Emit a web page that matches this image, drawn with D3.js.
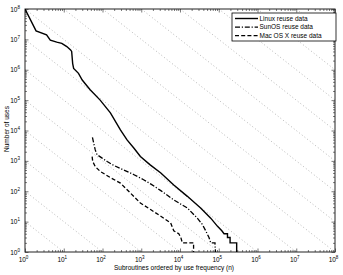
<!DOCTYPE html>
<html>
<head>
<meta charset="utf-8">
<script src="https://cdn.jsdelivr.net/npm/d3@7"></script>
<style>
  body { margin: 0; background: #fff; }
  text { font-family: "Liberation Sans", Arial, Helvetica, sans-serif; fill: #000; }
</style>
</head>
<body>
<svg id="chart" width="343" height="275"></svg>
<script>
// rank (n) and number of uses
const linuxN = [1, 1.93, 3.6, 4.5, 6.6, 8.9, 12, 15, 16, 17, 18, 24, 30, 35, 48, 87, 160, 290, 430, 650, 950,
  1700, 3200, 6900, 15500, 34000, 62000, 93000, 120000, 137000, 168000, 168000, 196000, 196000, 290000, 290000]
const linuxUses = [1e8, 1.9e7, 1.4e7, 9.5e6, 8.1e6, 7.4e6, 5.8e6, 4.5e6, 4.0e6, 1.6e6, 1.1e6, 7.6e5, 4.6e5, 3.6e5,
  2.2e5, 1.0e5, 3.8e4, 1.05e4, 4900, 2600, 1400, 740, 400, 160, 68, 28, 13, 7, 5, 4, 4, 3, 3, 2, 2, 1]

const sunosN = [55, 65, 72, 98, 132, 195, 355, 650, 1150, 1740, 3200, 6900, 15500, 28000, 38000, 46000, 56000,
  62000, 80000, 82000]
const sunosUses = [5900, 2300, 1600, 1230, 950, 710, 500, 350, 240, 175, 105, 52, 28, 13, 8, 5, 3, 2, 2, 1]

const macN = [54, 56, 65, 87, 117, 160, 290, 950, 1740, 3200, 5750, 6900, 9300, 10500, 11500, 22400, 22400]
const macUses = [1380, 950, 650, 450, 360, 280, 186, 41, 25, 15, 9, 5, 4, 3, 2, 2, 1]

const seriesNames = ['Linux reuse data', 'SunOS reuse data', 'Mac OS X reuse data']
const decades = d3.range(0, 9)            // 10^0 .. 10^8 on both axes
const zipfLines = d3.range(1, 16)          // n * uses = 10^m

const xLabel = 'Subroutines ordered by use frequency (n)'
const yLabel = 'Number of uses'

const margin = {left: 25, top: 9, right: 8, bottom: 23}
const width = 343, height = 275

const svg = d3.select('#chart')
const x = d3.scaleLog().domain([1, 1e8]).range([margin.left, width - margin.right])
const y = d3.scaleLog().domain([1, 1e8]).range([height - margin.bottom, margin.top])

const majors = decades.map(d => Math.pow(10, d))
const minors = []
decades.slice(0, -1).forEach(d => {
  d3.range(2, 10).forEach(k => minors.push(k * Math.pow(10, d)))
})

const pLeft = x.range()[0], pRight = x.range()[1]
const pTop = y.range()[1], pBottom = y.range()[0]

svg.append('defs').append('clipPath').attr('id', 'plot')
  .append('rect')
  .attr('x', pLeft).attr('y', pTop)
  .attr('width', pRight - pLeft)
  .attr('height', pBottom - pTop)

// dotted reference lines of slope -1
const grid = svg.append('g').attr('clip-path', 'url(#plot)')
zipfLines.forEach(m => {
  const n0 = Math.max(1, Math.pow(10, m - 8))
  const n1 = Math.min(1e8, Math.pow(10, m))
  grid.append('line')
    .attr('x1', x(n0)).attr('y1', y(Math.pow(10, m) / n0))
    .attr('x2', x(n1)).attr('y2', y(Math.pow(10, m) / n1))
    .attr('stroke', '#a4a4a4')
    .attr('stroke-width', 0.8)
    .attr('stroke-dasharray', '1,2.4')
})

// ticks on all four sides, pointing inward
function ticks(axis, vals, size, transform) {
  svg.append('g').attr('transform', transform)
    .call(axis.tickValues(vals).tickSize(size).tickFormat(''))
    .call(g => g.select('.domain').remove())
    .call(g => g.selectAll('line').attr('stroke', '#222').attr('stroke-width', 0.6))
}
ticks(d3.axisBottom(x), majors, -3.5, `translate(0,${pBottom})`)
ticks(d3.axisBottom(x), minors, -2, `translate(0,${pBottom})`)
ticks(d3.axisTop(x), majors, -3.5, `translate(0,${pTop})`)
ticks(d3.axisTop(x), minors, -2, `translate(0,${pTop})`)
ticks(d3.axisLeft(y), majors, -3.5, `translate(${pLeft},0)`)
ticks(d3.axisLeft(y), minors, -2, `translate(${pLeft},0)`)
ticks(d3.axisRight(y), majors, -3.5, `translate(${pRight},0)`)
ticks(d3.axisRight(y), minors, -2, `translate(${pRight},0)`)

svg.append('rect')
  .attr('x', pLeft).attr('y', pTop)
  .attr('width', pRight - pLeft).attr('height', pBottom - pTop)
  .attr('fill', 'none').attr('stroke', '#222').attr('stroke-width', 1)

// tick labels 10^k
const xl = svg.append('g').selectAll('text').data(decades).join('text')
  .attr('x', d => x(Math.pow(10, d)) - 1.5)
  .attr('y', pBottom + 10)
  .attr('text-anchor', 'middle')
  .attr('font-size', 6.5)
xl.append('tspan').text('10')
xl.append('tspan').attr('dy', -3).attr('font-size', 4.5).text(d => d)

const yl = svg.append('g').selectAll('text').data(decades).join('text')
  .attr('x', pLeft - 5)
  .attr('y', d => y(Math.pow(10, d)) + 2.5)
  .attr('text-anchor', 'end')
  .attr('font-size', 6.5)
yl.append('tspan').text('10')
yl.append('tspan').attr('dy', -3).attr('font-size', 4.5).text(d => d)

svg.append('text')
  .attr('x', 174).attr('y', 270)
  .attr('text-anchor', 'middle').attr('font-size', 6.5)
  .text(xLabel)

svg.append('text')
  .attr('transform', `translate(9,129) rotate(-90)`)
  .attr('text-anchor', 'middle').attr('font-size', 6.5)
  .text(yLabel)

// data lines
const styles = [
  {dash: null, width: 1.4},
  {dash: '5,1.8,1.2,1.8', width: 1.3},
  {dash: '4,2.2', width: 1.3}
]
const series = [
  linuxN.map((n, i) => [n, linuxUses[i]]),
  sunosN.map((n, i) => [n, sunosUses[i]]),
  macN.map((n, i) => [n, macUses[i]])
]
const line = d3.line().x(d => x(d[0])).y(d => y(d[1]))
svg.append('g').attr('clip-path', 'url(#plot)')
  .selectAll('path').data(series).join('path')
  .attr('d', line)
  .attr('fill', 'none')
  .attr('stroke', '#000')
  .attr('stroke-width', (d, i) => styles[i].width)
  .attr('stroke-dasharray', (d, i) => styles[i].dash)

// legend
const legend = svg.append('g').attr('transform', 'translate(232,13)')
legend.append('rect')
  .attr('width', 104).attr('height', 28)
  .attr('fill', '#fff').attr('stroke', '#000').attr('stroke-width', 0.8)
seriesNames.forEach((name, i) => {
  const ly = 5.5 + i * 8.6
  legend.append('line')
    .attr('x1', 3).attr('x2', 26).attr('y1', ly).attr('y2', ly)
    .attr('stroke', '#000')
    .attr('stroke-width', styles[i].width)
    .attr('stroke-dasharray', styles[i].dash)
  legend.append('text')
    .attr('x', 27.5).attr('y', ly + 2.3)
    .attr('font-size', 6.5)
    .text(name)
})
</script>
</body>
</html>
